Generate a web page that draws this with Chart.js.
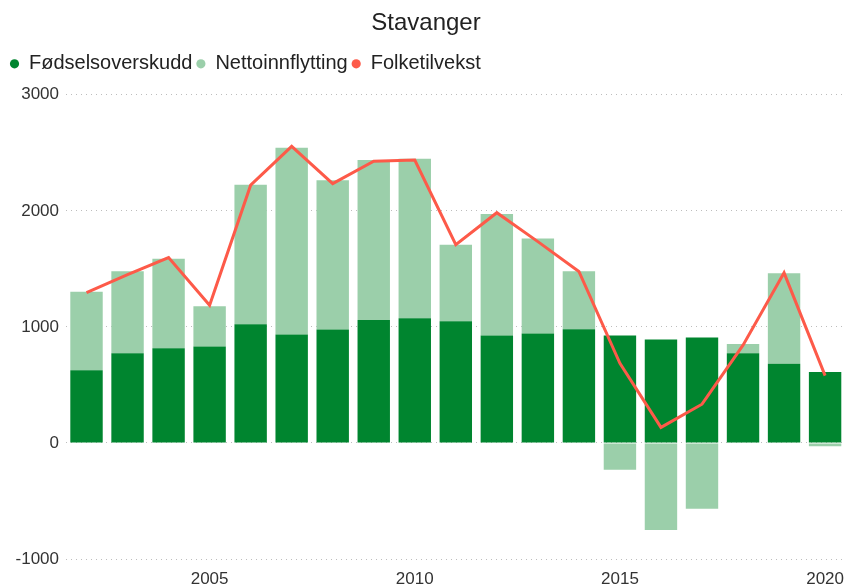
<!DOCTYPE html>
<html>
<head>
<meta charset="utf-8">
<script src="https://cdn.jsdelivr.net/npm/chart.js@4/dist/chart.umd.min.js"></script>
<style>
  html, body { margin: 0; padding: 0; background: #fff; }
  #wrap { width: 846px; height: 585px; }
</style>
</head>
<body>
<div id="wrap"><canvas id="chart"></canvas></div>
<script>
// data
let years = ["2002", "2003", "2004", "2005", "2006", "2007", "2008", "2009", "2010", "2011",
             "2012", "2013", "2014", "2015", "2016", "2017", "2018", "2019", "2020"];
let fodselsoverskudd = [626, 772, 815, 832, 1023, 935, 978, 1060, 1075, 1049,
                        926, 943, 980, 926, 892, 909, 774, 683, 611];
let nettoinnflytting = [677, 708, 772, 345, 1201, 1609, 1286, 1378, 1375, 658,
                        1047, 818, 500, -232, -750, -566, 78, 780, -29];
let folketilvekst = [1295, 1450, 1598, 1186, 2221, 2556, 2235, 2427, 2438, 1709,
                     1984, 1735, 1478, 686, 134, 334, 843, 1466, 580];
let yTicks = [-1000, 0, 1000, 2000, 3000];

let font = "'Liberation Sans', Arial, sans-serif";

let chart = new Chart(document.getElementById("chart"), {
    type: "bar",
    data: {
        labels: years,
        datasets: [
            {
                label: "Fødselsoverskudd",
                data: fodselsoverskudd,
                backgroundColor: "#00852f",
                stack: "bars",
                order: 1
            },
            {
                label: "Nettoinnflytting",
                data: nettoinnflytting,
                backgroundColor: "#9bcfaa",
                stack: "bars",
                order: 1
            },
            {
                type: "line",
                label: "Folketilvekst",
                data: folketilvekst,
                borderColor: "#fd5a49",
                backgroundColor: "#fd5a49",
                borderWidth: 3,
                pointRadius: 0,
                tension: 0,
                stack: "line",
                order: 0
            }
        ]
    },
    options: {
        responsive: true,
        maintainAspectRatio: false,
        animation: false,
        datasets: {
            bar: { categoryPercentage: 1, barPercentage: 0.79 }
        },
        layout: { padding: { left: 6, right: 0, top: 5, bottom: 0 } },
        plugins: {
            title: {
                display: true,
                text: "Stavanger",
                color: "#222",
                font: { family: font, size: 24, weight: "normal" },
                padding: { top: 4, bottom: 12 }
            },
            legend: {
                align: "start",
                labels: {
                    usePointStyle: true,
                    pointStyle: "circle",
                    boxWidth: 9,
                    boxHeight: 6.5,
                    padding: 4,
                    color: "#222",
                    font: { family: font, size: 20 },
                    sort: (a, b) => a.datasetIndex - b.datasetIndex,
                    generateLabels: function (c) {
                        let items = Chart.defaults.plugins.legend.labels.generateLabels(c);
                        items.forEach(it => { it.lineWidth = 0; it.strokeStyle = "rgba(0,0,0,0)"; });
                        return items;
                    }
                }
            },
            tooltip: { enabled: false }
        },
        scales: {
            x: {
                stacked: true,
                grid: { display: false },
                border: { display: false },
                afterFit: s => { s.height = 26; },
                ticks: {
                    autoSkip: false,
                    maxRotation: 0,
                    padding: 2,
                    color: "#333",
                    font: { family: font, size: 17 },
                    callback: function (v, i) {
                        let y = years[i];
                        return Number(y) % 5 === 0 ? y : "";
                    }
                }
            },
            y: {
                stacked: true,
                min: -1000,
                max: 3000,
                afterBuildTicks: s => { s.ticks = yTicks.map(v => ({ value: v })); },
                afterFit: s => { s.width = 60; },
                border: { display: false, dash: [1, 4] },
                grid: {
                    color: "#bdbdbd",
                    lineWidth: 1,
                    tickLength: 0
                },
                ticks: {
                    color: "#333",
                    padding: 7,
                    font: { family: font, size: 17 },
                    callback: v => String(v)
                }
            }
        }
    },
    plugins: [{
        id: "legendGap",
        beforeInit(c) {
            // extra room under the legend
            let fit = c.legend.fit;
            c.legend.fit = function () {
                fit.bind(c.legend)();
                this.height += 11;
            };
        }
    }]
});
</script>
</body>
</html>
